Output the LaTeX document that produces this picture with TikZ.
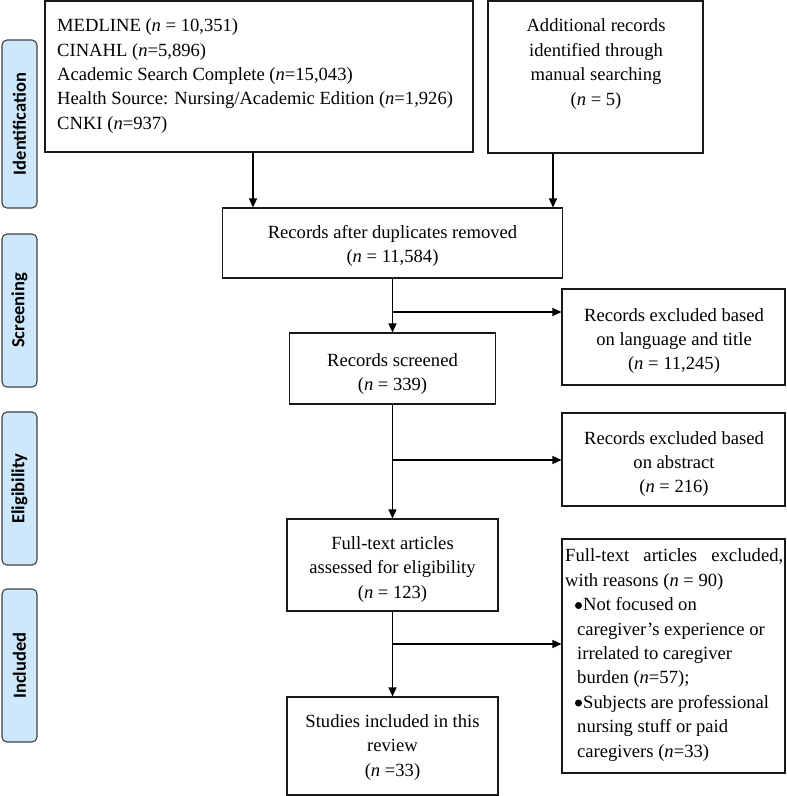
\documentclass[tikz,border=0pt]{standalone}
\usepackage{fontspec}
\setmainfont{Liberation Serif}
\newfontfamily\labfont{Carlito}
\usetikzlibrary{arrows.meta}
\definecolor{labfill}{RGB}{205,232,252}
\definecolor{labdraw}{RGB}{64,64,64}
\begin{document}
\begin{tikzpicture}[x=1pt,y=-1pt,
  box/.style={draw=black!90, line width=1.1pt, inner sep=0pt, rectangle},
  txt/.style={inner sep=0pt, font=\fontsize{18.6}{24.4}\selectfont},
  phase/.style={draw=labdraw, fill=labfill, line width=1.1pt, rounded corners=5pt,
    minimum height=35pt, inner sep=0pt, rotate=90,
    font=\labfont\bfseries\fontsize{18.5}{20}\selectfont},
  bulletdot/.style={circle, fill=black, inner sep=0pt, minimum size=7pt},
  arr/.style={line width=1.3pt, -{Triangle[length=9pt,width=8pt]}}
]
\useasboundingbox (0,0) rectangle (787,796);

% phase labels
\node[phase, minimum width=168pt] (p1) at (19.5,124) {Identification};
\node[phase, minimum width=153pt] (p2) at (19.5,310.5) {Screening};
\node[phase, minimum width=153pt] (p3) at (19.5,488.5) {Eligibility};
\node[phase, minimum width=153pt] (p4) at (19.5,665.5) {Included};

% boxes
\node[box, minimum width=428pt, minimum height=151pt] (A) at (259,76.5) {};
\node[box, minimum width=215pt, minimum height=152pt] (B) at (595.5,77) {};
\node[box, minimum width=340pt, minimum height=70pt] (C) at (392.5,243) {};
\node[box, minimum width=206pt, minimum height=71pt] (D) at (392.5,368.5) {};
\node[box, minimum width=223pt, minimum height=96pt] (E) at (673.5,337) {};
\node[box, minimum width=223pt, minimum height=93pt] (G) at (673.5,459.5) {};
\node[box, minimum width=211pt, minimum height=92pt] (H) at (392.5,565) {};
\node[box, minimum width=223pt, minimum height=234pt] (F) at (673.5,656) {};
\node[box, minimum width=211pt, minimum height=98pt] (I) at (392.5,746) {};

% texts
\node[txt, align=left, anchor=west] (tA) at (57,76) {MEDLINE (\textit{n} = 10,351)\\
CINAHL (\textit{n}=5,896)\\
Academic Search Complete (\textit{n}=15,043)\\
Health Source: Nursing/Academic Edition (\textit{n}=1,926)\\
CNKI (\textit{n}=937)};
\node[txt, align=center] (tB) at (596,64) {Additional records\\identified through\\manual searching\\(\textit{n} = 5)};
\node[txt, align=center] (tC) at (392.5,246) {Records after duplicates removed\\(\textit{n} = 11,584)};
\node[txt, align=center] (tD) at (392.5,374) {Records screened\\(\textit{n} = 339)};
\node[txt, align=center] (tE) at (674,341) {Records excluded based\\on language and title\\(\textit{n} = 11,245)};
\node[txt, align=center] (tG) at (674,464) {Records excluded based\\on abstract\\(\textit{n} = 216)};
\node[txt, align=center] (tH) at (392.5,569.5) {Full-text articles\\assessed for eligibility\\(\textit{n} = 123)};
\node[txt, align=center] (tI) at (392.5,747.5) {Studies included in this\\review\\(\textit{n} =33)};
\node[txt, align=left, anchor=west] (tF) at (565,655) {\makebox[218pt][s]{Full-text articles excluded,}\\
with reasons (\textit{n} = 90)\\
\hspace*{18pt}Not focused on\\
\hspace*{12pt}caregiver’s experience or\\
\hspace*{12pt}irrelated to caregiver\\
\hspace*{12pt}burden (\textit{n}=57);\\
\hspace*{18pt}Subjects are professional\\
\hspace*{12pt}nursing stuff or paid\\
\hspace*{12pt}caregivers (\textit{n}=33)};
\node[bulletdot] (bu1) at (578.5,605.5) {};
\node[bulletdot] (bu2) at (578.5,703) {};

% connectors
\coordinate (b1) at (392.5,312);
\coordinate (b2) at (392.5,460);
\coordinate (b3) at (392.5,644);
\draw[arr] ([xshift=-6pt]A.south) -- ([xshift=-6pt]A.south |- C.north);
\draw[arr] ([xshift=-42.5pt]B.south) -- ([xshift=-42.5pt]B.south |- C.north);
\draw[arr] (C.south) -- (D.north);
\draw[arr] (b1) -- (b1 -| E.west);
\draw[arr] (D.south) -- (H.north);
\draw[arr] (b2) -- (b2 -| G.west);
\draw[arr] (H.south) -- (I.north);
\draw[arr] (b3) -- (b3 -| F.west);
\end{tikzpicture}
\end{document}
